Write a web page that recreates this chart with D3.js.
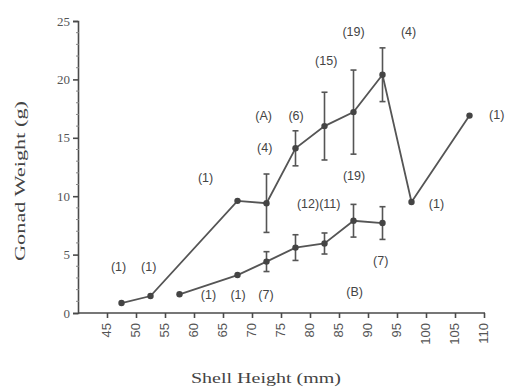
<!DOCTYPE html>
<html>
<head>
<meta charset="utf-8">
<script src="https://cdn.jsdelivr.net/npm/d3@7"></script>
<style>
  body { margin: 0; background: #fff; }
  svg { font-family: "Liberation Serif", serif; }
</style>
</head>
<body>
<div id="chart"></div>
<script>
// data
var heightsA = [47.5, 52.5, 67.5, 72.5, 77.5, 82.5, 87.5, 92.5, 97.5, 107.5];
var weightsA = [0.85, 1.45, 9.6, 9.4, 14.1, 16.0, 17.2, 20.4, 9.5, 16.9];
var errorsA  = [0, 0, 0, 2.5, 1.5, 2.9, 3.6, 2.3, 0, 0];

var heightsB = [57.5, 67.5, 72.5, 77.5, 82.5, 87.5, 92.5];
var weightsB = [1.6, 3.25, 4.4, 5.6, 5.95, 7.9, 7.7];
var errorsB  = [0, 0, 0.85, 1.1, 0.9, 1.4, 1.4];

var xTicks = [45, 50, 55, 60, 65, 70, 75, 80, 85, 90, 95, 100, 105, 110];
var yTicks = [0, 5, 10, 15, 20, 25];

// sample size labels: [x mm, y g, text]
var notes = [
  [47.0, 3.9, "(1)"], [52.2, 3.9, "(1)"], [62.0, 11.5, "(1)"],
  [72.2, 14.1, "(4)"], [72.0, 16.8, "(A)"], [77.6, 16.8, "(6)"],
  [82.8, 21.5, "(15)"], [87.5, 24.0, "(19)"], [97.0, 24.0, "(4)"],
  [112.2, 16.9, "(1)"], [87.6, 11.7, "(19)"], [81.5, 9.3, "(12)(11)"],
  [101.8, 9.3, "(1)"], [92.2, 4.4, "(7)"], [87.7, 1.7, "(B)"],
  [62.5, 1.5, "(1)"], [67.6, 1.5, "(1)"], [72.4, 1.5, "(7)"]
];

var svg = d3.select("#chart").append("svg")
  .attr("width", 507)
  .attr("height", 387);

var x = d3.scaleLinear().domain([40, 110]).range([78, 484]);
var y = d3.scaleLinear().domain([0, 25]).range([313, 21]);

var ink = "#4a4a4a";

// axes
var bottomAxis = d3.axisBottom(x).tickValues(xTicks).tickSize(5).tickFormat("");
var gx = svg.append("g")
  .attr("transform", "translate(0,313)")
  .call(bottomAxis);
gx.select(".domain").attr("d", "M78,0H485");
gx.selectAll("line, path").attr("stroke", ink).attr("stroke-width", 1.6);

gx.selectAll(".xlab")
  .data(xTicks)
  .enter().append("text")
  .attr("transform", d => `translate(${x(d) + 4},${10}) rotate(-90)`)
  .attr("text-anchor", "end")
  .attr("font-size", 13)
  .attr("fill", "#555")
  .text(d => d);

var leftAxis = d3.axisLeft(y).tickValues(yTicks).tickSize(5).tickPadding(3);
var gy = svg.append("g")
  .attr("transform", "translate(78,0)")
  .call(leftAxis);
gy.selectAll("line, path").attr("stroke", ink).attr("stroke-width", 1.6);
gy.selectAll("text")
  .attr("font-family", "Liberation Serif, serif")
  .attr("font-size", 13)
  .attr("fill", "#555");

// minor ticks on y
svg.append("g").selectAll("line")
  .data(d3.range(1, 25).filter(d => d % 5 !== 0))
  .enter().append("line")
  .attr("x1", 76).attr("x2", 79)
  .attr("y1", d => y(d)).attr("y2", d => y(d))
  .attr("stroke", "#888").attr("stroke-width", 1);

// axis titles
svg.append("text")
  .attr("x", 266).attr("y", 383)
  .attr("text-anchor", "middle")
  .attr("font-size", 15)
  .attr("textLength", 150)
  .attr("lengthAdjust", "spacingAndGlyphs")
  .attr("fill", "#444")
  .text("Shell Height (mm)");

svg.append("text")
  .attr("transform", "translate(25,181) rotate(-90)")
  .attr("text-anchor", "middle")
  .attr("font-size", 15)
  .attr("textLength", 160)
  .attr("lengthAdjust", "spacingAndGlyphs")
  .attr("fill", "#444")
  .text("Gonad Weight (g)");

function drawSeries(hs, ws, es) {
  var pts = hs.map((h, i) => ({h: h, w: ws[i], e: es[i]}));
  var line = d3.line().x(d => x(d.h)).y(d => y(d.w));

  svg.append("path")
    .datum(pts)
    .attr("d", line)
    .attr("fill", "none")
    .attr("stroke", "#555")
    .attr("stroke-width", 1.8);

  var bars = svg.append("g").selectAll("g")
    .data(pts.filter(d => d.e > 0))
    .enter().append("g")
    .attr("stroke", "#555")
    .attr("stroke-width", 1.6);
  bars.append("line")
    .attr("x1", d => x(d.h)).attr("x2", d => x(d.h))
    .attr("y1", d => y(d.w + d.e)).attr("y2", d => y(d.w - d.e));
  bars.append("line")
    .attr("x1", d => x(d.h) - 3).attr("x2", d => x(d.h) + 3)
    .attr("y1", d => y(d.w + d.e)).attr("y2", d => y(d.w + d.e));
  bars.append("line")
    .attr("x1", d => x(d.h) - 3).attr("x2", d => x(d.h) + 3)
    .attr("y1", d => y(d.w - d.e)).attr("y2", d => y(d.w - d.e));

  svg.append("g").selectAll("circle")
    .data(pts)
    .enter().append("circle")
    .attr("cx", d => x(d.h))
    .attr("cy", d => y(d.w))
    .attr("r", 3.2)
    .attr("fill", "#444");
}

drawSeries(heightsA, weightsA, errorsA);
drawSeries(heightsB, weightsB, errorsB);

svg.append("g").selectAll("text")
  .data(notes)
  .enter().append("text")
  .attr("x", d => x(d[0]))
  .attr("y", d => y(d[1]))
  .attr("text-anchor", "middle")
  .attr("dominant-baseline", "middle")
  .attr("font-family", "Liberation Sans, Arial, sans-serif")
  .attr("font-size", 12.5)
  .attr("fill", "#444")
  .text(d => d[2]);
</script>
</body>
</html>
